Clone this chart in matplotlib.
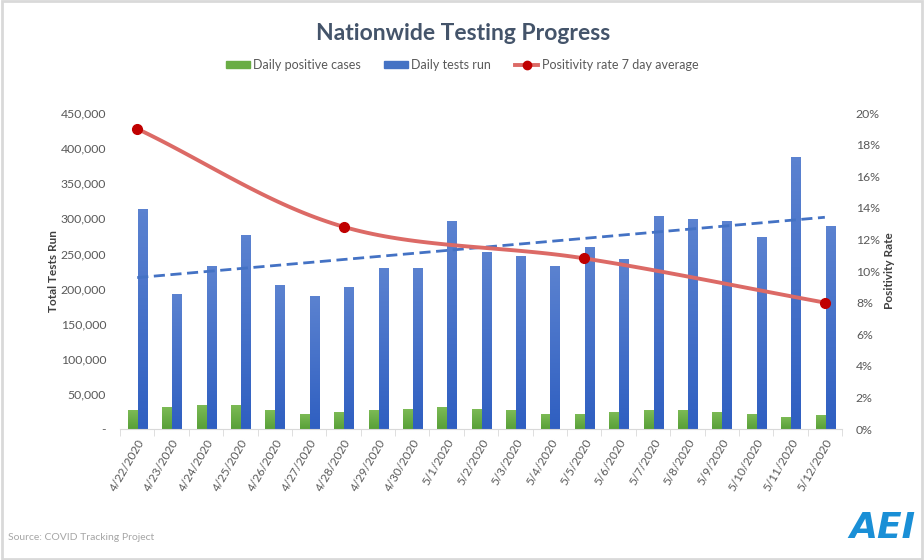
import numpy as np
import matplotlib
matplotlib.use('Agg')
from matplotlib import pyplot as plt
from matplotlib.colors import LinearSegmentedColormap
from matplotlib.patches import Patch, Rectangle
from matplotlib.lines import Line2D
from matplotlib.ticker import FuncFormatter, PercentFormatter

plt.rcParams['font.family'] = ['Lato', 'DejaVu Sans']

''' data read off the chart '''
dates = ['4/22/2020', '4/23/2020', '4/24/2020', '4/25/2020', '4/26/2020', '4/27/2020',
         '4/28/2020', '4/29/2020', '4/30/2020', '5/1/2020', '5/2/2020', '5/3/2020',
         '5/4/2020', '5/5/2020', '5/6/2020', '5/7/2020', '5/8/2020', '5/9/2020',
         '5/10/2020', '5/11/2020', '5/12/2020']
positive = [27000, 30000, 33000, 34000, 26000, 20000, 24000, 26000, 28000, 31000, 28000,
            26000, 20000, 21000, 24000, 26000, 27000, 24000, 20000, 16000, 19000]
tests = [313000, 191000, 231000, 276000, 205000, 188000, 202000, 229000, 228000, 296000,
         252000, 246000, 231000, 258000, 241000, 303000, 298000, 295000, 272000, 387000, 288000]
# 7 day average, only weekly points are plotted
rate_idx = [0, 6, 13, 20]
rate = [0.190, 0.128, 0.108, 0.080]

blue_cm = LinearSegmentedColormap.from_list('b', ['#2f5fc1', '#5b82d0'])
green_cm = LinearSegmentedColormap.from_list('g', ['#58a038', '#7cba55'])
text_grey = '#595959'


def catmull_rom(px, py, n=40):
  # smooth line through the points, like excel's "smoothed line"
  px = np.asarray(px, float)
  py = np.asarray(py, float)
  P = np.column_stack([px, py])
  P = np.vstack([2 * P[0] - P[1], P, 2 * P[-1] - P[-2]])
  out = []
  for i in range(1, len(P) - 2):
    p0, p1, p2, p3 = P[i - 1], P[i], P[i + 1], P[i + 2]
    t = np.linspace(0, 1, n)[:, None]
    c = 0.5 * ((2 * p1) + (-p0 + p2) * t + (2 * p0 - 5 * p1 + 4 * p2 - p3) * t**2
               + (-p0 + 3 * p1 - 3 * p2 + p3) * t**3)
    out.append(c)
  out = np.vstack(out)
  return out[:, 0], out[:, 1]


fig = plt.figure(figsize=(9.24, 5.6), dpi=100)
fig.patches.append(Rectangle((0.002, 0.002), 0.996, 0.996, transform=fig.transFigure,
                             fill=False, edgecolor='#d9d9d9', linewidth=2))
ax = fig.add_axes([0.1299, 0.2339, 0.7814, 0.5643])
x = np.arange(len(dates))
w = 0.29

grad = np.linspace(0, 1, 64).reshape(-1, 1)[::-1]
gbars = ax.bar(x - w / 2 + 0.02, positive, w, color='#6aad45', zorder=2)
bbars = ax.bar(x + w / 2 + 0.02, tests, w, color='#4472c4', zorder=2)
for bars, cm in ((gbars, green_cm), (bbars, blue_cm)):
  for b in bars:
    ax.imshow(grad, extent=[b.get_x(), b.get_x() + b.get_width(), 0, b.get_height()],
              cmap=cm, aspect='auto', zorder=2.1)

# linear trendline on the tests
k, c0 = np.polyfit(x, tests, 1)
ax.plot(x, k * x + c0, color='#4472c4', lw=2, ls=(0, (4, 2)), zorder=3)

ax.set_xlim(-0.5, len(dates) - 0.5)
ax.set_ylim(0, 450000)
ax.set_yticks(np.arange(0, 450001, 50000))
ax.yaxis.set_major_formatter(FuncFormatter(lambda v, p: '-' if v == 0 else f'{int(v):,}'))
ax.set_xticks(x)
ax.set_xticklabels(dates, rotation=60, ha='right', rotation_mode='anchor', fontsize=8.5,
                   color=text_grey)
ax.set_xticks(np.arange(-0.5, len(dates)), minor=True)
ax.tick_params(axis='x', which='major', length=0, pad=6)
ax.tick_params(axis='x', which='minor', length=5, color='#d9d9d9')
ax.tick_params(axis='y', length=0, labelsize=8.8, labelcolor=text_grey, pad=10)
for s in ['top', 'left', 'right']:
  ax.spines[s].set_visible(False)
ax.spines['bottom'].set_color('#d9d9d9')
ax.set_ylabel('Total Tests Run', fontsize=8.5, fontweight='bold', color='#404040', labelpad=1)

ax2 = ax.twinx()
sx, sy = catmull_rom(rate_idx, rate)
ax2.plot(sx, sy, color='#dc6a66', lw=2.8, zorder=4, solid_capstyle='round')
ax2.plot(rate_idx, rate, ls='none', marker='o', ms=7, color='#c00000', zorder=5)
ax2.set_ylim(0, 0.20)
ax2.set_yticks(np.arange(0, 0.201, 0.02))
ax2.yaxis.set_major_formatter(PercentFormatter(1.0, decimals=0))
ax2.tick_params(axis='y', length=0, labelsize=8.8, labelcolor=text_grey, pad=10)
for s in ['top', 'left', 'right', 'bottom']:
  ax2.spines[s].set_visible(False)
ax2.set_ylabel('Positivity Rate', fontsize=8.5, fontweight='bold', color='#404040', labelpad=3)

fig.text(0.501, 0.94, 'Nationwide Testing Progress', ha='center', va='center',
         fontsize=16.5, fontweight='bold', color='#44546a')

handles = [Patch(color='#6aad45'), Patch(color='#4472c4'),
           Line2D([], [], color='#dc6a66', lw=2.8, marker='o', ms=6,
                  markerfacecolor='#c00000', markeredgecolor='#c00000')]
fig.legend(handles, ['Daily positive cases', 'Daily tests run', 'Positivity rate 7 day average'],
           loc='center', bbox_to_anchor=(0.5, 0.884), ncol=3, frameon=False, fontsize=9,
           handlelength=1.9, handleheight=0.55, columnspacing=1.9, handletextpad=0.25,
           labelcolor=text_grey)

fig.text(0.009, 0.04, 'Source: COVID Tracking Project', fontsize=7.5, color='#a6a6a6',
         ha='left', va='center')
fig.text(0.955, 0.058, 'AEI', fontsize=26, fontweight='bold', fontstyle='italic',
         color='#1a8fd6', ha='center', va='center', family='DejaVu Sans')

fig.savefig('out.png', dpi=100)
